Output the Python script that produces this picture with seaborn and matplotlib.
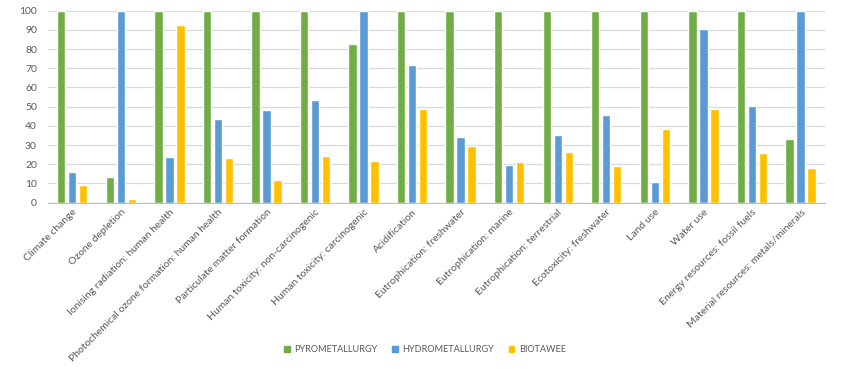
import pandas as pd
import numpy as np
import matplotlib
matplotlib.use("Agg")
import matplotlib.pyplot as plt
import seaborn as sns

categories = ['Climate change', 'Ozone depletion', 'Ionising radiation: human health',
              'Photochemical ozone formation: human health', 'Particulate matter formation',
              'Human toxicity: non-carcinogenic', 'Human toxicity: carcinogenic', 'Acidification',
              'Eutrophication: freshwater', 'Eutrophication: marine', 'Eutrophication: terrestrial',
              'Ecotoxicity: freshwater', 'Land use', 'Water use', 'Energy resources: fossil fuels',
              'Material resources: metals/minerals']
pyro = [100, 13.2, 100, 100, 100, 100, 82.5, 100, 100, 100, 100, 100, 100, 100, 100, 33.0]
hydro = [16.2, 100, 24.0, 43.8, 48.1, 53.6, 100, 71.5, 34.2, 19.6, 35.2, 45.7, 10.9, 90.6, 50.3, 100]
bio = [9.3, 1.8, 92.4, 23.3, 12.0, 24.5, 21.7, 49.0, 29.3, 21.4, 26.2, 18.9, 38.4, 49.0, 25.7, 18.1]
series = ['PYROMETALLURGY', 'HYDROMETALLURGY', 'BIOTAWEE']
colors = ['#70AD47', '#5B9BD5', '#FFC000']

df = pd.DataFrame({
    'category': categories * 3,
    'series': np.repeat(series, len(categories)),
    'value': pyro + hydro + bio,
})

sns.set_style('white')
plt.rcParams['font.family'] = ['Lato', 'DejaVu Sans']

fig = plt.figure(figsize=(8.45, 3.69), dpi=100)
ax = fig.add_axes([0.0568, 0.4507, 0.9192, 0.5203])

sns.barplot(data=df, x='category', y='value', hue='series', order=categories,
            hue_order=series, palette=colors, width=0.68, gap=0.24, ax=ax,
            saturation=1, legend=False)

ax.set_xlim(-0.5, len(categories) - 0.5)
ax.set_ylim(0, 100)
ax.set_yticks(range(0, 101, 10))
ax.yaxis.grid(True, color='#D9D9D9', linewidth=0.9)
ax.set_axisbelow(True)
for side in ['top', 'right', 'left']:
    ax.spines[side].set_visible(False)
ax.spines['bottom'].set_color('#BFBFBF')
ax.set_xlabel('')
ax.set_ylabel('')
ax.tick_params(axis='both', length=0, colors='#595959', labelsize=7.5)
ax.tick_params(axis='y', pad=8)
ax.set_xticks(range(len(categories)))
ax.set_xticklabels(categories, rotation=45, ha='right', rotation_mode='anchor')

handles = [plt.Rectangle((0, 0), 1, 1, color=c) for c in colors]
fig.legend(handles, series, loc='center', bbox_to_anchor=(0.503, 0.052), ncol=3,
           frameon=False, fontsize=6.6, handlelength=0.6, handleheight=0.6,
           handletextpad=0.5, columnspacing=1.6, labelcolor='#595959')

fig.savefig('out.png', dpi=100)
